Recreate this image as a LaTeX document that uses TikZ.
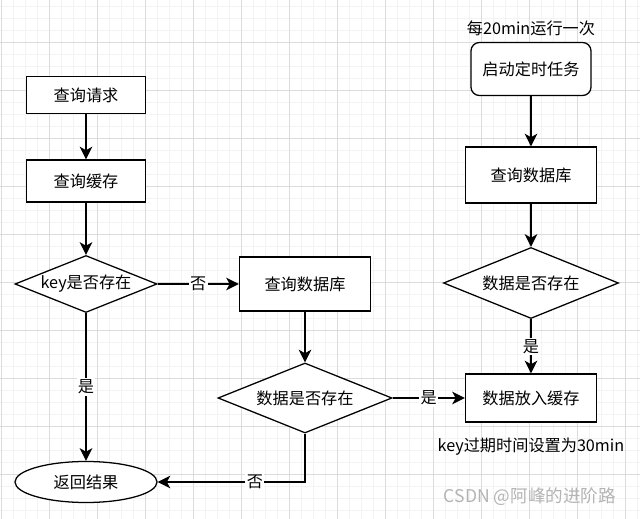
\documentclass[tikz,border=0pt]{standalone}
\usepackage{fontspec}
\newfontfamily\cjk{Noto Sans CJK SC}
\usepackage{tikz}
\usetikzlibrary{arrows.meta,shapes.geometric}
\definecolor{gridminor}{HTML}{F3F3F3}
\definecolor{gridmajor}{HTML}{DCDCDC}
\definecolor{mark}{HTML}{B4B4B4}

\begin{document}
\begin{tikzpicture}[x=0.025cm,y=-0.025cm,
    font=\cjk\fontsize{11.5}{13}\selectfont,
    box/.style={draw,line width=0.9pt,fill=white,inner sep=0pt},
    decide/.style={draw,diamond,line width=0.9pt,fill=white,inner sep=0pt,aspect=2.5},
    flow/.style={line width=1.4pt,-{Stealth[length=9pt,width=9pt,inset=2.5pt]}},
    lab/.style={fill=white,inner sep=1pt}]

    \useasboundingbox (0,0) rectangle (640,519);
    \fill[white] (0,0) rectangle (640,519);

    \foreach \x in {1,13,...,637} \draw[gridminor,line width=0.4pt] (\x,0) -- (\x,519);
    \foreach \y in {6,18,...,518} \draw[gridminor,line width=0.4pt] (0,\y) -- (640,\y);
    \foreach \x in {1,49,...,625} \draw[gridmajor,line width=0.5pt] (\x,0) -- (\x,519);
    \foreach \y in {42,90,...,522} \draw[gridmajor,line width=0.5pt] (0,\y) -- (640,\y);

    \node[box,minimum width=2.975cm,minimum height=0.925cm] (req) at (86,95) {查询请求};
    \node[box,minimum width=2.975cm,minimum height=1.05cm] (cache) at (86,181) {查询缓存};
    \node[decide,minimum width=3.55cm,minimum height=1.425cm] (keyq) at (86,284) {key是否存在};
    \node[box,ellipse,minimum width=3.55cm,minimum height=1.025cm] (ret) at (86,482) {返回结果};

    \node[box,minimum width=3.275cm,minimum height=1.35cm] (db) at (305,284) {查询数据库};
    \node[decide,minimum width=4.35cm,minimum height=1.75cm] (dataq) at (305,398) {数据是否存在};

    \node (every) at (531,28) {每20min运行一次};
    \node[box,rounded corners=6pt,minimum width=3cm,minimum height=1.325cm] (task) at (531,69) {启动定时任务};
    \node[box,minimum width=3.275cm,minimum height=1.4cm] (db2) at (531,175) {查询数据库};
    \node[decide,minimum width=4.375cm,minimum height=1.775cm] (dataq2) at (531,283) {数据是否存在};
    \node[box,minimum width=3.275cm,minimum height=1.2cm] (put) at (531,398) {数据放入缓存};
    \node (expire) at (531,447) {key过期时间设置为30min};

    \node[text=mark,font=\cjk\fontsize{12.5}{14}\selectfont] (wm) at (530,497) {CSDN @阿峰的进阶路};

    \draw[flow] (req) -- (cache);
    \draw[flow] (cache) -- (keyq);
    \draw[flow] (keyq) -- node[lab]{否} (db);
    \draw[flow] (keyq) -- node[lab]{是} (ret);
    \draw[flow] (db) -- (dataq);
    \draw[flow] (dataq) -- node[lab]{是} (put);
    \draw[flow] (dataq.south) |- node[lab,pos=0.67]{否} (ret.east);

    \draw[flow] (task) -- (db2);
    \draw[flow] (db2) -- (dataq2);
    \draw[flow] (dataq2) -- node[lab]{是} (put);

\end{tikzpicture}
\end{document}
